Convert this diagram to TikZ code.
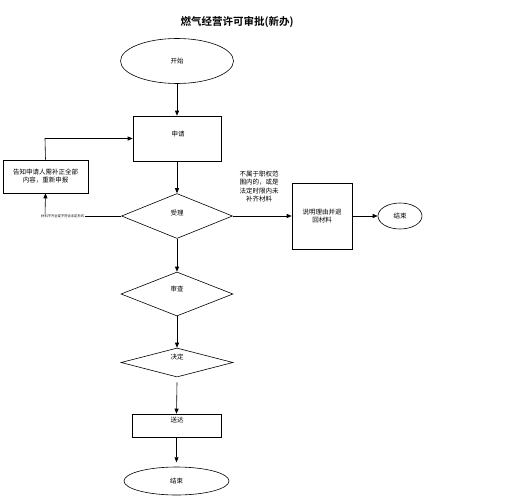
\documentclass[tikz,border=0pt]{standalone}
\usepackage{fontspec}
\setmainfont{Noto Sans CJK SC}
\newfontfamily\cjkbold{Noto Sans CJK SC Bold}
\usetikzlibrary{shapes.geometric,arrows.meta}
\begin{document}
\begin{tikzpicture}[x=1pt,y=-1pt,
  every node/.style={font=\fontsize{6.5}{8}\selectfont, inner sep=0pt},
  oval/.style={draw, ellipse, line width=0.6pt},
  rbox/.style={draw, rectangle, line width=0.6pt},
  dia/.style={draw, diamond, line width=0.6pt},
  arr/.style={-{Triangle[length=5pt,width=4pt]}, line width=0.6pt},
  ln/.style={line width=0.6pt}]
\useasboundingbox (0,0) rectangle (526,500);
\fill[white] (0,0) rectangle (526,500);
\node (title) at (237,22) {\cjkbold\fontsize{10.5}{12}\selectfont 燃气经营许可审批(新办)};
\node[oval, minimum width=113pt, minimum height=45pt] (start) at (177,61) {开始};
\node[rbox, minimum width=88pt, minimum height=45pt] (apply) at (177,138.5) {};
\node at (178,134) {申请};
\node[dia, minimum width=111pt, minimum height=45pt, aspect=2.47] (accept) at (177,216) {};
\node at (177,213) {受理};
\node[rbox, minimum width=85pt, minimum height=33pt, align=center] (notify) at (45.5,176.5) {告知申请人需补正全部\\内容，重新申报};
\node[rbox, minimum width=60pt, minimum height=66pt, align=center] (reason) at (322,216) {说明理由并退\\回材料};
\node[oval, minimum width=44pt, minimum height=26pt] (end1) at (400,216) {结束};
\node[dia, minimum width=112pt, minimum height=44pt] (review) at (177,294) {};
\node at (177,289) {审查};
\node[dia, minimum width=112pt, minimum height=29pt] (decide) at (177,362.5) {};
\node at (177,357) {决定};
\node[rbox, minimum width=89pt, minimum height=23pt] (deliver) at (176.5,425.5) {};
\node at (177,420) {送达};
\node[oval, minimum width=105pt, minimum height=28pt] (end2) at (176.5,481) {结束};
\coordinate (lt) at (45,216);
\coordinate (lu) at (45,138.5);
\draw[arr] (start) -- (apply);
\draw[arr] (apply) -- (accept);
\draw[ln] (accept.west) -- (lt);
\draw[arr] (lt) -- (notify.south);
\node[fill=white, inner xsep=1pt, font=\fontsize{3.3}{4}\selectfont, anchor=west] (lbl) at (40,216) {材料不齐全或不符合法定形式};
\draw[arr] (notify.north) -- (lu) -- (apply.west);
\draw[arr] (accept.east) -- (reason.west);
\node[align=center, font=\fontsize{6.5}{8.3}\selectfont] (lbl2) at (259,186.5) {不属于职权范\\围内的，或是\\法定时限内未\\补齐材料};
\draw[arr] (reason.east) -- (end1.west);
\draw[arr] (accept.south) -- (review.north);
\draw[arr] (review.south) -- (decide.north);
\draw[arr] (decide.south) ++(0,5) -- (deliver.north);
\draw[arr] (deliver.south) -- ++(0,25);
\end{tikzpicture}
\end{document}
